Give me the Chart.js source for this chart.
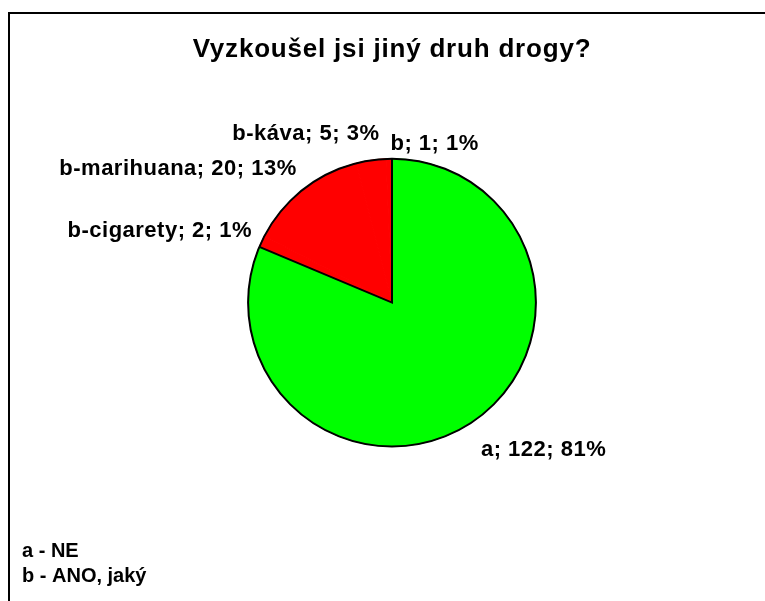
<!DOCTYPE html>
<html>
<head>
<meta charset="utf-8">
<script src="https://cdn.jsdelivr.net/npm/chart.js@4"></script>
<style>
  html, body { margin: 0; padding: 0; background: #ffffff; }
  #wrap { width: 765px; height: 601px; position: relative; }
</style>
</head>
<body>
<div id="wrap"><canvas id="pieChart"></canvas></div>
<script>
const categories = ["a", "b-cigarety", "b-marihuana", "b-káva", "b"];
const counts = [122, 2, 20, 5, 1];
const sliceColors = ["#00ff00", "#ff0000", "#ff0000", "#ff0000", "#ff0000"];
const titleText = "Vyzkoušel jsi jiný druh drogy?";
const noteLines = ["a - NE", "b - ANO, jaký"];

// label placement tweaks (text only): [align, dx, dy]
const labelNudge = [
  ["left", -4, 7],
  ["right", 12, 0],
  ["right", 9, -2],
  ["right", 12, -3],
  ["left", 2, 9]
];

const FONT = "\"Liberation Sans\", Arial, sans-serif";
const total = counts.reduce((s, v) => s + v, 0);

const framePlugin = {
  id: "frame",
  beforeDraw(chart) {
    const ctx = chart.ctx;
    ctx.save();
    ctx.fillStyle = "#ffffff";
    ctx.fillRect(0, 0, chart.width, chart.height);
    ctx.strokeStyle = "#000000";
    ctx.lineWidth = 2;
    ctx.strokeRect(9, 13, chart.width + 20, chart.height + 20);
    ctx.restore();
    ctx.letterSpacing = "0.8px";
  }
};

const outlinePlugin = {
  id: "outline",
  afterDatasetsDraw(chart) {
    const ctx = chart.ctx;
    const el = chart.getDatasetMeta(0).data[0];
    const { x, y, outerRadius, startAngle, endAngle } =
      el.getProps(["x", "y", "outerRadius", "startAngle", "endAngle"], true);
    ctx.save();
    ctx.strokeStyle = "#000000";
    ctx.lineWidth = 2;
    ctx.beginPath();
    ctx.arc(x, y, outerRadius, 0, Math.PI * 2);
    ctx.stroke();
    ctx.beginPath();
    ctx.moveTo(x + Math.cos(startAngle) * outerRadius, y + Math.sin(startAngle) * outerRadius);
    ctx.lineTo(x, y);
    ctx.lineTo(x + Math.cos(endAngle) * outerRadius, y + Math.sin(endAngle) * outerRadius);
    ctx.stroke();
    ctx.restore();
  }
};

const labelPlugin = {
  id: "sliceLabels",
  afterDraw(chart) {
    const ctx = chart.ctx;
    const arcs = chart.getDatasetMeta(0).data;
    ctx.save();
    ctx.fillStyle = "#000000";
    ctx.font = "bold 22px " + FONT;
    ctx.letterSpacing = "0.5px";
    ctx.textBaseline = "middle";
    arcs.forEach((arc, i) => {
      const { x, y, outerRadius, startAngle, endAngle } =
        arc.getProps(["x", "y", "outerRadius", "startAngle", "endAngle"], true);
      const mid = (startAngle + endAngle) / 2;
      const R = outerRadius + 24;
      const [align, dx, dy] = labelNudge[i];
      const pct = Math.round((counts[i] / total) * 100);
      ctx.textAlign = align;
      ctx.fillText(`${categories[i]}; ${counts[i]}; ${pct}%`,
        x + Math.cos(mid) * R + dx, y + Math.sin(mid) * R + dy);
    });

    ctx.font = "bold 20px " + FONT;
    ctx.letterSpacing = "0px";
    ctx.textAlign = "left";
    noteLines.forEach((line, i) => {
      ctx.fillText(line, 22, 551 + i * 25);
    });
    ctx.restore();
  }
};

new Chart(document.getElementById("pieChart"), {
  type: "pie",
  data: {
    labels: categories,
    datasets: [
      {
        data: counts,
        backgroundColor: sliceColors,
        borderColor: sliceColors,
        borderWidth: 1
      }
    ]
  },
  options: {
    responsive: true,
    maintainAspectRatio: false,
    animation: false,
    layout: {
      padding: { top: 0, left: 100, right: 81, bottom: 154 }
    },
    plugins: {
      legend: { display: false },
      tooltip: { enabled: false },
      title: {
        display: true,
        text: titleText,
        color: "#000000",
        font: { family: FONT, size: 26, weight: "bold" },
        padding: { top: 34, bottom: 93 }
      }
    }
  },
  plugins: [framePlugin, outlinePlugin, labelPlugin]
});
</script>
</body>
</html>
